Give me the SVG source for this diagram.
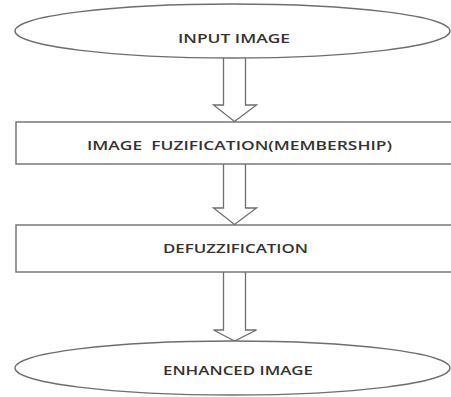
<svg xmlns="http://www.w3.org/2000/svg" width="451" height="397" viewBox="0 0 451 397">
<style>
.shape{fill:#fff;stroke:#6e6e6e;stroke-width:1.4}
.arrow{fill:#fff;stroke:#6e6e6e;stroke-width:1.3;stroke-linejoin:miter}
.label{font-family:"Open Sans","Liberation Sans",sans-serif;font-size:13px;font-weight:600;fill:#333;text-anchor:middle}
</style>
<rect width="451" height="397" fill="#fff"/>
<g id="connectors">
<path class="arrow" d="M223.5 58 V105 H213.5 L234.5 121.5 L256.5 105 H245.5 V58"/>
<path class="arrow" d="M223.5 164 V208 H213.5 L234.5 224.5 L256.5 208 H245.5 V164"/>
<path class="arrow" d="M223.5 272 V330 H213.5 L234.5 341 L256.5 330 H245.5 V272"/>
</g>
<g id="input-image">
<ellipse class="shape" cx="232.5" cy="31" rx="217.5" ry="27"/>
<text class="label" x="234" y="43" textLength="112" lengthAdjust="spacingAndGlyphs">INPUT IMAGE</text>
</g>
<g id="fuzification">
<rect class="shape" x="16" y="122" width="440" height="42"/>
<text class="label" x="239.5" y="150" textLength="305" lengthAdjust="spacingAndGlyphs">IMAGE&#160; FUZIFICATION(MEMBERSHIP)</text>
</g>
<g id="defuzzification">
<rect class="shape" x="16" y="225" width="440" height="47"/>
<text class="label" x="235.5" y="253" textLength="145" lengthAdjust="spacingAndGlyphs">DEFUZZIFICATION</text>
</g>
<g id="enhanced-image">
<ellipse class="shape" cx="232.5" cy="368" rx="217.5" ry="27"/>
<text class="label" x="238" y="375" textLength="150" lengthAdjust="spacingAndGlyphs">ENHANCED IMAGE</text>
</g>
</svg>
